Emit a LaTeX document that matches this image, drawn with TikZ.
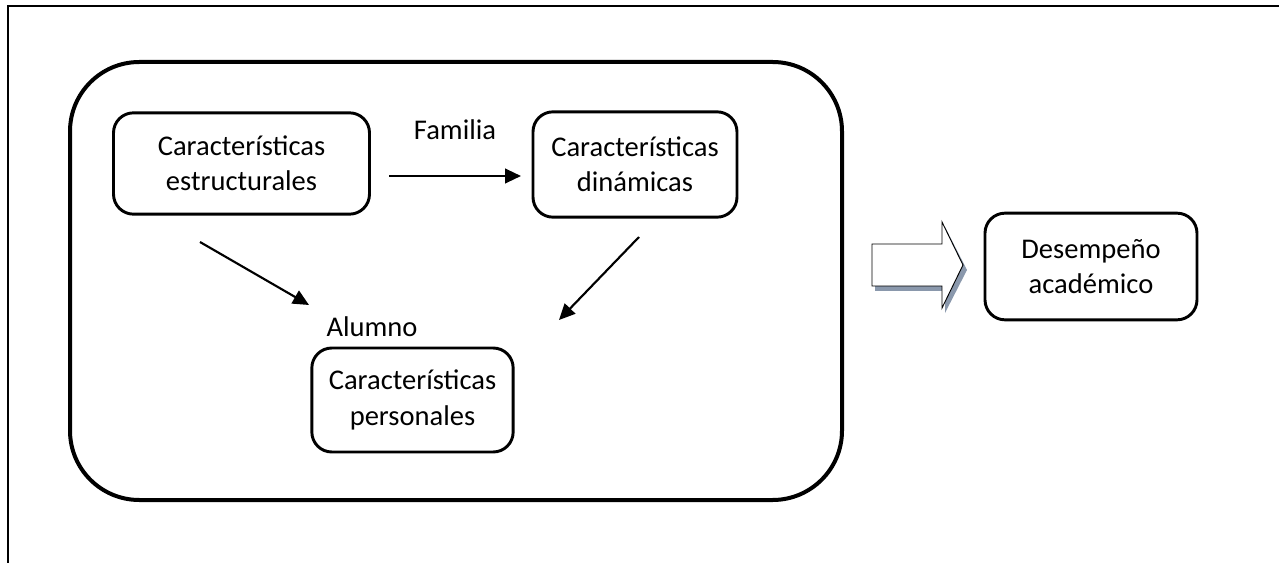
\documentclass[tikz,border=0pt]{standalone}
\usepackage{fontspec}
\setmainfont{Carlito}
\usetikzlibrary{arrows.meta}
\definecolor{shadowblue}{RGB}{138,152,172}
\tikzset{
  framebox/.style={line width=1.5pt},
  groupbox/.style={draw, line width=3pt, rounded corners=52pt},
  itembox/.style={draw, line width=2.2pt, rounded corners=15pt, align=center,
    font=\fontsize{21.4}{26.5}\selectfont, inner sep=0pt},
  lbl/.style={font=\fontsize{21.4}{26.5}\selectfont, inner sep=0pt},
  link/.style={line width=1.6pt, -{Triangle[length=12pt,width=11pt]}},
  blockarrow/.style={draw, line width=0.7pt, fill=white},
}
\begin{document}
\begin{tikzpicture}[x=0.75pt,y=-0.75pt]
  \useasboundingbox (0,0) rectangle (1279,563);
  % page frame (left and top edges)
  \draw[framebox] (8,563) -- (8,6) -- (1279,6);
  % surrounding group
  \draw[groupbox] (70,62) rectangle (842,500);
  % boxes
  \node[itembox, minimum width=192pt, minimum height=76pt] (est) at (241.5,163.5)
    {Características\\estructurales};
  \node[itembox, minimum width=153pt, minimum height=79pt] (din) at (635,164.5)
    {Características\\dinámicas};
  \node[itembox, minimum width=151pt, minimum height=78pt] (per) at (412.5,400)
    {Características\\personales};
  \node[itembox, minimum width=159pt, minimum height=80pt] (des) at (1091,266.5)
    {Desempeño\\académico};
  % labels
  \node[lbl] (fam) at (455,130) {Familia};
  \node[lbl] (alu) at (372,327) {Alumno};
  % connector end points
  \coordinate (f1) at (389,176);
  \coordinate (f2) at (521,176);
  \coordinate (e1) at (200,242);
  \coordinate (e2) at (309,305);
  \coordinate (d1) at (639,237);
  \coordinate (d2) at (559,320);
  \draw[link] (f1) -- (f2);
  \draw[link] (e1) -- (e2);
  \draw[link] (d1) -- (d2);
  % block arrow with drop shadow
  \fill[shadowblue] (875,249) -- (945,249) -- (945,227) -- (967,270)
    -- (945,313) -- (945,291) -- (875,291) -- cycle;
  \draw[blockarrow] (872,244) -- (942,244) -- (942,222) -- (963,265)
    -- (942,308) -- (942,286) -- (872,286) -- cycle;
\end{tikzpicture}
\end{document}
